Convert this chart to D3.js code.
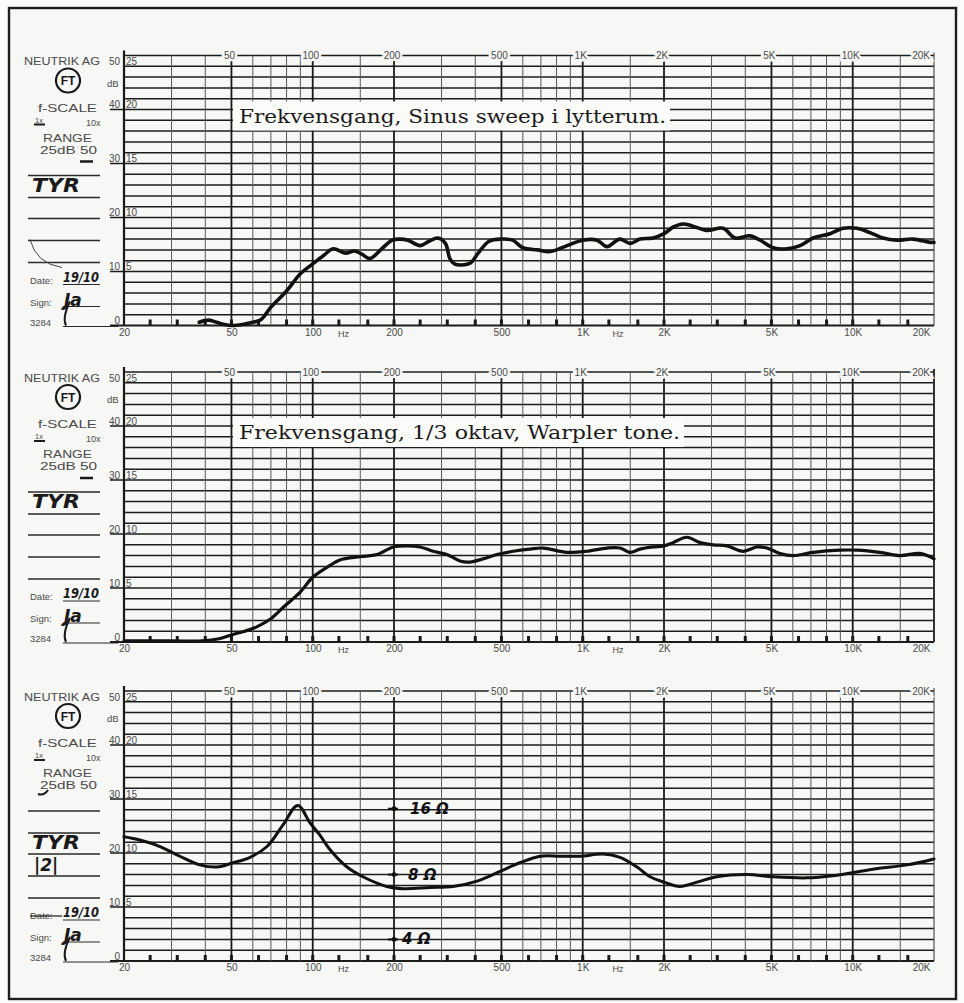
<!DOCTYPE html>
<html>
<head>
<meta charset="utf-8">
<script src="https://cdn.jsdelivr.net/npm/d3@7"></script>
<style>
  body { margin: 0; background: #fbfbfa; }
</style>
</head>
<body>
<svg></svg>
<script>
// ---- data (dB on the 25 dB range) ----
const sweepFreq = [38, 41, 44, 47, 50, 55, 60, 64, 70, 80, 90, 100, 110, 119, 132, 143, 152, 163, 180, 197, 210, 225, 250, 270, 290, 310, 322, 335, 355, 385, 410, 450, 500, 550, 600, 680, 760, 875, 1000, 1130, 1230, 1370, 1500, 1630, 1820, 2000, 2160, 2350, 2560, 2880, 3310, 3670, 4170, 4540, 5070, 5710, 6380, 7130, 8240, 9210, 10370, 11590, 12950, 14590, 16720, 19340, 20000];
const sweepDb = [0.3, 0.5, 0.3, 0.1, 0.0, 0.1, 0.3, 0.5, 1.7, 3.2, 4.8, 5.7, 6.5, 7.1, 6.7, 6.9, 6.6, 6.2, 7.1, 7.9, 8.0, 7.9, 7.4, 7.8, 8.1, 7.6, 6.2, 5.7, 5.6, 5.8, 6.7, 7.8, 8.0, 7.9, 7.2, 7.0, 6.85, 7.4, 7.9, 7.9, 7.3, 8.0, 7.6, 8.0, 8.1, 8.5, 9.1, 9.4, 9.2, 8.8, 9.0, 8.1, 8.3, 7.9, 7.2, 7.1, 7.4, 8.1, 8.5, 9.0, 9.0, 8.6, 8.1, 7.9, 8.0, 7.7, 7.7];

const thirdFreq = [20, 30, 39, 45, 50.7, 56, 62, 69.5, 77.6, 89.7, 100, 116, 126, 150, 173, 199, 223, 250, 279, 314, 351, 382, 427, 481, 552, 638, 713, 875, 1036, 1230, 1374, 1496, 1630, 1820, 2000, 2160, 2430, 2720, 3040, 3420, 3930, 4420, 4810, 5380, 6010, 7130, 8970, 10370, 12620, 14960, 17740, 19680, 20000];
const thirdDb = [0.1, 0.1, 0.1, 0.3, 0.7, 1.0, 1.4, 2.1, 3.2, 4.6, 6.0, 7.1, 7.6, 7.9, 8.1, 8.8, 8.9, 8.8, 8.4, 8.1, 7.5, 7.4, 7.7, 8.1, 8.4, 8.6, 8.7, 8.3, 8.4, 8.7, 8.7, 8.3, 8.6, 8.8, 8.9, 9.2, 9.7, 9.2, 9.0, 8.9, 8.4, 8.8, 8.7, 8.2, 8.0, 8.3, 8.5, 8.5, 8.3, 8.0, 8.2, 7.8, 7.7];

const impFreq = [20, 22.9, 27.2, 32.2, 38.2, 44.2, 50.7, 58.6, 67.7, 77.6, 88, 97.7, 106, 116, 134, 153.5, 188, 216, 272, 331, 406, 494, 586, 695, 824, 977, 1190, 1374, 1590, 1775, 2000, 2290, 2650, 3140, 4060, 5070, 6770, 8450, 11880, 15890, 19680, 20000];
const impDb = [11.5, 11.2, 10.6, 9.7, 8.9, 8.7, 9.1, 9.6, 10.6, 12.6, 14.4, 12.8, 11.7, 10.3, 8.7, 7.8, 6.9, 6.7, 6.8, 6.9, 7.4, 8.3, 9.1, 9.7, 9.7, 9.7, 9.9, 9.6, 8.7, 7.8, 7.3, 6.9, 7.3, 7.8, 8.0, 7.8, 7.7, 7.9, 8.5, 8.9, 9.4, 9.45];

// impedance reference marks drawn on the 200 Hz line of the third strip
const impMarkLabels = ['16 Ω', '8 Ω', '4 Ω'];
const impMarkDb = [14.1, 8.0, 2.0];

// chart paper grid
const minorFreqs = [30, 40, 60, 70, 80, 90, 150, 300, 400, 600, 700, 800, 900, 1500, 3000, 4000, 6000, 7000, 8000, 9000, 15000];
const majorFreqs = [50, 100, 200, 500, 1000, 2000, 5000, 10000];
const topLabelFreqs = [50, 100, 200, 500, 1000, 2000, 5000, 10000, 20000];
const topLabels = ['50', '100', '200', '500', '1K', '2K', '5K', '10K', '20K'];
const bottomLabelFreqs = [20, 50, 100, 200, 500, 1000, 2000, 5000, 10000, 20000];
const bottomLabels = ['20', '50', '100', '200', '500', '1K', '2K', '5K', '10K', '20K'];
const hzFreqs = [130, 1350];
const thirdOctaveMarks = [25, 31.5, 40, 50, 63, 80, 100, 125, 160, 200, 250, 315, 400, 500, 630, 800, 1000, 1250, 1600, 2000, 2500, 3150, 4000, 5000, 6300, 8000, 10000, 12500, 16000];
const dbSteps = d3.range(0, 26);
const range25Labels = ['25', '20', '15', '10', '5'];
const range50Labels = ['50', '40', '30', '20', '10'];
const range25Db = [25, 20, 15, 10, 5];

const titles = ['Frekvensgang, Sinus sweep i lytterum.', 'Frekvensgang, 1/3 oktav, Warpler tone.', null];
const handName = ['TYR', 'TYR', 'TYR'];
const handDate = ['19/10', '19/10', '19/10'];

const W = 964, H = 1003;
const panelTops = [55.5, 372, 691];
const panelH = 270;

const svg = d3.select('svg').attr('width', W).attr('height', H);

svg.append('rect').attr('width', W).attr('height', H).attr('fill', '#fbfbfa');
// outer frame
svg.append('rect')
  .attr('x', 9).attr('y', 8).attr('width', 947).attr('height', 991)
  .attr('fill', '#f7f7f6').attr('stroke', '#1e1e1e').attr('stroke-width', 2.4);

const x = d3.scaleLog().domain([20, 20000]).range([124, 934]);

const printFont = "'Liberation Sans', Arial, sans-serif";
const handFont = "'DejaVu Sans', sans-serif";
const ink = '#4a4a4a';

const drawPanel = (i, freqs, dbs, strokeW) => {
  const T = panelTops[i];
  const y = d3.scaleLinear().domain([0, 25]).range([T + panelH, T]);
  const g = svg.append('g');

  // horizontal grid, every 1 dB; the 5 dB lines reach out under the scale labels
  g.selectAll('line.h').data(dbSteps).join('line')
    .attr('x1', (d) => (d % 5 === 0 && d !== 25 ? 110 : x(20)))
    .attr('x2', x(20000))
    .attr('y1', (d) => y(d)).attr('y2', (d) => y(d))
    .attr('stroke', '#1c1c1c')
    .attr('stroke-width', (d) => (d === 0 ? 2 : 1.5));

  // vertical grid
  g.selectAll('line.minor').data(minorFreqs).join('line')
    .attr('x1', (d) => x(d)).attr('x2', (d) => x(d))
    .attr('y1', y(25)).attr('y2', y(0))
    .attr('stroke', '#5a5a5a').attr('stroke-width', 1);
  g.selectAll('line.major').data(majorFreqs).join('line')
    .attr('x1', (d) => x(d)).attr('x2', (d) => x(d))
    .attr('y1', y(25)).attr('y2', y(0))
    .attr('stroke', '#1a1a1a').attr('stroke-width', 1.8);
  // edges
  g.append('line').attr('x1', x(20)).attr('x2', x(20)).attr('y1', T - 5).attr('y2', y(0))
    .attr('stroke', '#1a1a1a').attr('stroke-width', 2.2);
  g.append('line').attr('x1', x(20000)).attr('x2', x(20000)).attr('y1', T - 3).attr('y2', y(0))
    .attr('stroke', '#333').attr('stroke-width', i === 1 ? 2 : 1);

  // 1/3 octave marks on the base line
  g.selectAll('rect.mark').data(thirdOctaveMarks).join('rect')
    .attr('x', (d) => x(d) - 1.5).attr('y', y(0) - 6)
    .attr('width', 3).attr('height', 6).attr('fill', '#1a1a1a');

  // top frequency labels break the top line
  g.selectAll('text.top').data(topLabelFreqs).join('text')
    .attr('x', (d) => (d === 20000 ? x(d) - 4 : x(d) - 2))
    .attr('y', T + 3.5)
    .attr('text-anchor', (d) => (d === 20000 ? 'end' : 'middle'))
    .attr('font-family', printFont).attr('font-size', 10).attr('fill', ink)
    .attr('stroke', '#f7f7f6').attr('stroke-width', 5).attr('paint-order', 'stroke')
    .text((d, k) => topLabels[k]);

  // bottom frequency labels
  const axis = d3.axisBottom(x).tickValues(bottomLabelFreqs)
    .tickFormat((d, k) => bottomLabels[k]).tickSize(0).tickPadding(3);
  const ax = g.append('g').attr('transform', `translate(0,${y(0)})`).call(axis);
  ax.select('.domain').remove();
  ax.selectAll('text')
    .attr('font-family', printFont).attr('font-size', 10).attr('fill', ink)
    .attr('text-anchor', (d) => (d === 20000 ? 'end' : 'middle'))
    .attr('dx', (d) => (d === 20000 ? -4 : 0));
  g.selectAll('text.hz').data(hzFreqs).join('text')
    .attr('x', (d) => x(d)).attr('y', y(0) + 11)
    .attr('text-anchor', 'middle')
    .attr('font-family', printFont).attr('font-size', 9).attr('fill', ink)
    .text('Hz');

  // dB scale labels (50 dB range outside, 25 dB range inside)
  g.selectAll('text.s50').data(range25Db).join('text')
    .attr('x', 120).attr('y', (d) => (d === 25 ? T + 9.5 : y(d) - 1.5))
    .attr('text-anchor', 'end')
    .attr('font-family', printFont).attr('font-size', 10).attr('fill', ink)
    .text((d, k) => range50Labels[k]);
  g.selectAll('text.s25').data(range25Db).join('text')
    .attr('x', 126).attr('y', (d) => (d === 25 ? T + 9.5 : y(d) - 1.5))
    .attr('font-family', printFont).attr('font-size', 10).attr('fill', ink)
    .text((d, k) => range25Labels[k]);
  g.append('text').attr('x', 120).attr('y', y(0) - 1.5).attr('text-anchor', 'end')
    .attr('font-family', printFont).attr('font-size', 10).attr('fill', ink).text('0');
  g.append('text').attr('x', 107).attr('y', T + 31)
    .attr('font-family', printFont).attr('font-size', 9.5).attr('fill', ink).text('dB');

  // printed header of the strip
  g.append('text').attr('x', 24).attr('y', T + 9.5)
    .attr('font-family', printFont).attr('font-size', 10).attr('fill', ink)
    .attr('textLength', 76).attr('lengthAdjust', 'spacingAndGlyphs').text('NEUTRIK AG');
  g.append('circle').attr('cx', 68).attr('cy', T + 25).attr('r', 12)
    .attr('fill', 'none').attr('stroke', '#1a1a1a').attr('stroke-width', 2.2);
  g.append('text').attr('x', 68).attr('y', T + 29.5).attr('text-anchor', 'middle')
    .attr('font-family', printFont).attr('font-size', 12).attr('font-weight', 'bold')
    .attr('fill', '#1a1a1a').text('FT');
  g.append('text').attr('x', 38).attr('y', T + 56)
    .attr('font-family', printFont).attr('font-size', 10.5).attr('fill', ink)
    .attr('textLength', 59).attr('lengthAdjust', 'spacingAndGlyphs').text('f-SCALE');
  g.append('text').attr('x', 35).attr('y', T + 67)
    .attr('font-family', printFont).attr('font-size', 7.5).attr('fill', ink).text('1x');
  g.append('line').attr('x1', 34).attr('x2', 45).attr('y1', T + 69).attr('y2', T + 69)
    .attr('stroke', '#1a1a1a').attr('stroke-width', 2);
  g.append('text').attr('x', 86).attr('y', T + 70)
    .attr('font-family', printFont).attr('font-size', 9).attr('fill', ink).text('10x');
  g.append('text').attr('x', 43).attr('y', T + 86)
    .attr('font-family', printFont).attr('font-size', 10.5).attr('fill', ink)
    .attr('textLength', 49).attr('lengthAdjust', 'spacingAndGlyphs').text('RANGE');
  g.append('text').attr('x', 40).attr('y', T + 98)
    .attr('font-family', printFont).attr('font-size', 10.5).attr('fill', ink)
    .attr('textLength', 57).attr('lengthAdjust', 'spacingAndGlyphs').text('25dB 50');
  if (i < 2) {
    g.append('line').attr('x1', 80).attr('x2', 93).attr('y1', T + 106).attr('y2', T + 106)
      .attr('stroke', '#1a1a1a').attr('stroke-width', 2.5);
  } else {
    g.append('path').attr('d', `M38,${T + 103} Q44,${T + 105} 48,${T + 99}`)
      .attr('fill', 'none').attr('stroke', '#1a1a1a').attr('stroke-width', 2.2);
  }

  // write-in lines
  const writeLines = [120, 142, 163, 185, 207];
  g.selectAll('line.w').data(writeLines).join('line')
    .attr('x1', 28).attr('x2', 100).attr('y1', (d) => T + d).attr('y2', (d) => T + d)
    .attr('stroke', '#2a2a2a').attr('stroke-width', 1.3);
  const formRows = [['Date:', 228], ['Sign:', 250], ['3284', 270]];
  g.selectAll('text.form').data(formRows).join('text')
    .attr('x', 30).attr('y', (d) => T + d[1])
    .attr('font-family', printFont).attr('font-size', 9.5).attr('fill', ink)
    .text((d) => d[0]);
  g.selectAll('line.form').data(formRows).join('line')
    .attr('x1', 63).attr('x2', (d, k) => (k === 2 ? 118 : 100))
    .attr('y1', (d) => T + d[1] + 1).attr('y2', (d) => T + d[1] + 1)
    .attr('stroke', '#2a2a2a').attr('stroke-width', 1.2);
  if (i === 2) {
    g.append('line').attr('x1', 30).attr('x2', 62).attr('y1', T + 225).attr('y2', T + 225)
      .attr('stroke', '#1a1a1a').attr('stroke-width', 1.2);
  }

  // handwriting
  g.append('text').attr('x', 32).attr('y', T + (i === 2 ? 158 : 136))
    .attr('font-family', handFont).attr('font-style', 'italic').attr('font-weight', 'bold')
    .attr('font-size', 19).attr('fill', '#1a1a1a')
    .attr('textLength', 48).attr('lengthAdjust', 'spacingAndGlyphs').text(handName[i]);
  if (i === 2) {
    g.append('text').attr('x', 34).attr('y', T + 180)
      .attr('font-family', handFont).attr('font-style', 'italic').attr('font-weight', 'bold')
      .attr('font-size', 17).attr('fill', '#1a1a1a').text('|2|');
  }
  g.append('text').attr('x', 63).attr('y', T + 226)
    .attr('font-family', handFont).attr('font-style', 'italic').attr('font-weight', 'bold')
    .attr('font-size', 14).attr('fill', '#1a1a1a')
    .attr('textLength', 36).attr('lengthAdjust', 'spacingAndGlyphs').text(handDate[i]);
  g.append('text').attr('x', 64).attr('y', T + 250)
    .attr('font-family', handFont).attr('font-style', 'italic').attr('font-weight', 'bold')
    .attr('font-size', 17).attr('fill', '#1a1a1a').text('Ja');
  g.append('path').attr('d', `M70,${T + 246} Q62,${T + 262} 66,${T + 270}`)
    .attr('fill', 'none').attr('stroke', '#1a1a1a').attr('stroke-width', 2);
  if (i === 0) {
    g.append('path').attr('d', `M30,${T + 184} Q36,${T + 208} 62,${T + 212}`)
      .attr('fill', 'none').attr('stroke', '#444').attr('stroke-width', 1);
  }

  // title pasted over the grid
  if (titles[i]) {
    const tx0 = 233, tx1 = i === 0 ? 670 : 684;
    g.append('rect').attr('x', tx0).attr('y', T + 46).attr('width', tx1 - tx0).attr('height', 29)
      .attr('fill', '#fbfbfa');
    g.append('text').attr('x', tx0 + 6).attr('y', T + 67)
      .attr('font-family', "'DejaVu Serif', 'Liberation Serif', serif").attr('font-size', 18)
      .attr('fill', '#1a1a1a')
      .attr('textLength', tx1 - tx0 - 10).attr('lengthAdjust', 'spacingAndGlyphs')
      .text(titles[i]);
  }

  // recorded curve
  const line = d3.line()
    .x((d) => x(d[0]))
    .y((d) => y(d[1]))
    .curve(d3.curveCatmullRom.alpha(0.5));
  g.append('path')
    .datum(freqs.map((f, k) => [f, dbs[k]]))
    .attr('d', line)
    .attr('fill', 'none')
    .attr('stroke', '#111')
    .attr('stroke-width', strokeW)
    .attr('stroke-linejoin', 'round')
    .attr('stroke-linecap', 'round');

  return y;
};

drawPanel(0, sweepFreq, sweepDb, 3.6);
drawPanel(1, thirdFreq, thirdDb, 3.2);
const yImp = drawPanel(2, impFreq, impDb, 3);

// impedance reference marks on the 200 Hz line (handwritten)
const ig = svg.append('g');
ig.selectAll('line.imp').data(impMarkDb).join('line')
  .attr('x1', x(200) - 6).attr('x2', x(200) + 4)
  .attr('y1', (d) => yImp(d)).attr('y2', (d) => yImp(d))
  .attr('stroke', '#111').attr('stroke-width', 2);
ig.selectAll('circle.imp').data(impMarkDb).join('circle')
  .attr('cx', x(200)).attr('cy', (d) => yImp(d)).attr('r', 2.4).attr('fill', '#111');
ig.selectAll('text.imp').data(impMarkDb).join('text')
  .attr('x', (d, k) => x(200) + [16, 14, 8][k])
  .attr('y', (d) => yImp(d) + 5)
  .attr('font-family', handFont).attr('font-style', 'italic').attr('font-weight', 'bold')
  .attr('font-size', 15).attr('fill', '#111')
  .text((d, k) => impMarkLabels[k]);
</script>
</body>
</html>
